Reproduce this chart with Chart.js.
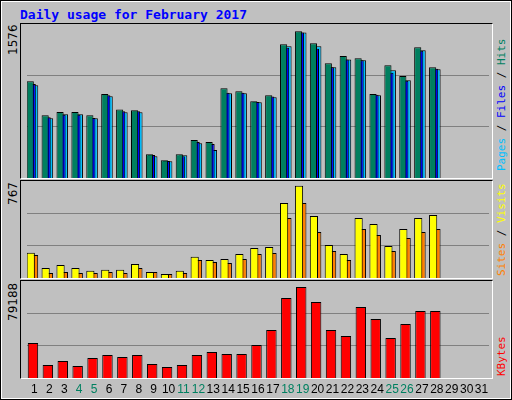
<!DOCTYPE html>
<html>
<head>
<meta charset="utf-8">
<script src="https://cdn.jsdelivr.net/npm/chart.js@4"></script>
<style>
  body { margin: 0; }
  #frame { position: relative; width: 510px; height: 398px; background: #c0c0c0; border: 1px solid #000; overflow: hidden; }
  #inner { position: absolute; left: 0; top: 0; right: 0; bottom: 0; border: 1px solid #fff; }
  .panel { position: absolute; border-top: 1px solid #000; border-left: 1px solid #000; border-bottom: 1px solid #fff; border-right: 1px solid #fff; }
  .panel canvas { position: absolute; left: 0; top: 0; }
  .title { position: absolute; left: 19px; top: 6px; font: bold 13px "DejaVu Sans Mono", monospace; color: #0000ff; }
  .vtext { position: absolute; transform-origin: left top; transform: rotate(-90deg); white-space: nowrap; font: 11px "DejaVu Sans Mono", monospace; }
  .vnum { position: absolute; transform-origin: left top; transform: rotate(-90deg); white-space: nowrap; font: 12px "DejaVu Sans", sans-serif; color: #000; }
</style>
</head>
<body>
<div id="frame">
  <div id="inner"></div>
  <div class="title">Daily usage for February 2017</div>
  <div class="panel" style="left:19px;top:22px;width:471px;height:154px"><canvas id="c1"></canvas></div>
  <div class="panel" style="left:19px;top:179px;width:471px;height:97px"><canvas id="c2"></canvas></div>
  <div class="panel" style="left:19px;top:279px;width:471px;height:97px;overflow:visible"><canvas id="c3"></canvas></div>
  <div class="vnum" style="left:5px;top:54px">1576</div>
  <div class="vnum" style="left:5px;top:204px">767</div>
  <div class="vnum" style="left:5px;top:320px">79188</div>
  <div class="vtext" style="left:494px;top:170px"><span style="color:#00bfff">Pages</span> / <span style="color:#0000ff">Files</span> / <span style="color:#008060">Hits</span></div>
  <div class="vtext" style="left:494px;top:275px"><span style="color:#ff8000">Sites</span> / <span style="color:#ffff00">Visits</span></div>
  <div class="vtext" style="left:494px;top:375px"><span style="color:#ff0000">KBytes</span></div>
</div>
<script>
const days = ['1','2','3','4','5','6','7','8','9','10','11','12','13','14','15','16','17','18','19','20','21','22','23','24','25','26','27','28','29','30','31'];
const weekendDays = ['4','5','11','12','18','19','25','26'];

const hits  = [1038,673,709,709,673,902,737,727,254,190,254,408,387,963,931,823,888,1436,1576,1446,1232,1310,1285,902,1210,1095,1403,1189];
const files = [1010,652,680,680,644,888,716,716,247,183,233,387,365,916,916,816,874,1400,1564,1389,1189,1274,1264,895,1131,1045,1368,1174];
const pages = [995,641,684,684,641,877,705,705,233,179,243,372,301,909,909,813,866,1414,1564,1414,1189,1274,1264,888,1156,1049,1371,1167];

const visits = [210,83,108,83,61,69,69,116,50,33,61,177,150,158,199,249,258,623,767,515,274,199,498,449,266,407,498,523];
const sites  = [191,42,50,42,42,50,42,83,50,33,42,150,133,125,158,199,208,498,623,382,224,150,407,357,224,332,382,407];

const kbytes = [30458,11313,14794,10443,17404,20015,18275,20015,12183,9572,11313,20015,22626,20885,20885,28717,41770,69617,79188,66136,41770,36549,61785,51343,34809,46992,58304,58304];

Chart.defaults.animation = false;
Chart.defaults.font.family = 'DejaVu Sans';

// shift overlapped bars sideways by dataset.shift pixels
const shiftBars = {
    id: 'shiftBars',
    afterDatasetsUpdate(chart) {
        chart.data.datasets.forEach((ds, i) => {
            chart.getDatasetMeta(i).data.forEach(el => { el.x += ds.shift || 0; });
        });
    }
};

function makeChart(id, h, datasets, yMax, extraPad, plugins) {
    const cv = document.getElementById(id);
    const w = 471;
    cv.width = w; cv.height = h + (extraPad || 0);
    cv.style.width = w + 'px'; cv.style.height = (h + (extraPad || 0)) + 'px';
    return new Chart(cv, {
        type: 'bar',
        data: { labels: days, datasets: datasets.map(d => Object.assign({
            borderColor: '#000', borderWidth: 1, borderSkipped: 'bottom',
            grouped: false, categoryPercentage: 1
        }, d)) },
        options: {
            responsive: false,
            maintainAspectRatio: false,
            layout: { padding: { left: 6, right: 3, top: 0, bottom: extraPad || 0 } },
            plugins: { legend: { display: false }, tooltip: { enabled: false } },
            scales: {
                x: { display: false },
                y: {
                    min: 0, max: yMax,
                    ticks: { display: false, stepSize: yMax / 3 },
                    border: { display: false },
                    grid: { color: '#808080', drawTicks: false, lineWidth: c => (c.tick.value > 0 && c.tick.value < yMax - 1) ? 1 : 0 }
                }
            }
        },
        plugins: [shiftBars].concat(plugins || [])
    });
}

makeChart('c1', 154, [
    { data: hits, backgroundColor: '#007f5f', barPercentage: 0.48, shift: -4.2 },
    { data: files, backgroundColor: '#0000ff', barPercentage: 0.48, shift: -2.2 },
    { data: pages, backgroundColor: '#00bfff', barPercentage: 0.55, shift: -0.3 }
], 1654);

makeChart('c2', 97, [
    { data: visits, backgroundColor: '#ffff00', barPercentage: 0.55, shift: -3.7 },
    { data: sites, backgroundColor: '#ff8000', barPercentage: 0.5, shift: 0 }
], 806);

// day labels under the bottom panel
const dayLabels = {
    id: 'dayLabels',
    afterDraw(chart) {
        const ctx = chart.ctx;
        const xs = chart.scales.x;
        ctx.save();
        ctx.font = '12px "Liberation Sans"';
        ctx.textAlign = 'center';
        ctx.textBaseline = 'middle';
        days.forEach((d, i) => {
            ctx.fillStyle = weekendDays.includes(d) ? '#008060' : '#000';
            ctx.fillText(d, xs.getPixelForValue(i), chart.chartArea.bottom + 12);
        });
        ctx.restore();
    }
};

makeChart('c3', 97, [
    { data: kbytes, backgroundColor: '#ff0000', barPercentage: 0.7, shift: -1.5 }
], 84410, 24, [dayLabels]);
</script>
</body>
</html>
